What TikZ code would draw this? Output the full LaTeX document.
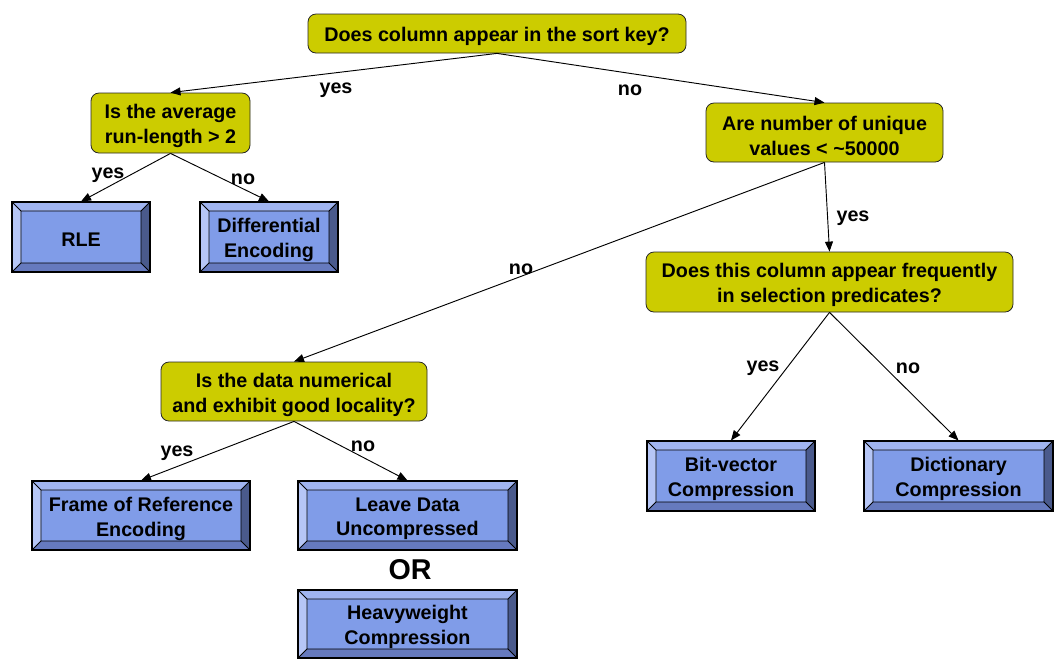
\documentclass[tikz,border=0pt]{standalone}
\usepackage{fontspec}
\setmainfont{Liberation Sans}
\usetikzlibrary{arrows.meta}
\definecolor{qfill}{RGB}{204,204,0}
\definecolor{lcenter}{RGB}{128,156,232}
\definecolor{ltop}{RGB}{160,180,240}
\definecolor{lleft}{RGB}{182,198,246}
\definecolor{lright}{RGB}{74,90,140}
\definecolor{lbottom}{RGB}{102,122,190}
\tikzset{
  txt/.style={font=\bfseries\fontsize{14.8}{18.5}\selectfont, align=center, inner sep=0pt},
  intext/.style={label={[txt, yshift=-2.4pt]center:{#1}}},
  question/.style={inner sep=0pt, draw=black!85, fill=qfill, rounded corners=6pt, line width=0.6pt, intext={#1}},
  leaf/.style={inner sep=0pt, draw=black, line width=0.8pt, fill=lcenter, intext={#1},
    path picture={
      \path (path picture bounding box.north west) coordinate (pnw)
            (path picture bounding box.north east) coordinate (pne)
            (path picture bounding box.south west) coordinate (psw)
            (path picture bounding box.south east) coordinate (pse)
            ([shift={(6.75pt,-6.75pt)}]path picture bounding box.north west) coordinate (inw)
            ([shift={(-6.75pt,-6.75pt)}]path picture bounding box.north east) coordinate (ine)
            ([shift={(6.75pt,6.75pt)}]path picture bounding box.south west) coordinate (isw)
            ([shift={(-6.75pt,6.75pt)}]path picture bounding box.south east) coordinate (ise);
      \fill[ltop] (pnw) -- (pne) -- (ine) -- (inw) -- cycle;
      \fill[lleft] (pnw) -- (inw) -- (isw) -- (psw) -- cycle;
      \fill[lright] (pne) -- (pse) -- (ise) -- (ine) -- cycle;
      \fill[lbottom] (psw) -- (isw) -- (ise) -- (pse) -- cycle;
      \draw[line width=0.6pt] (inw) rectangle (ise)
            (pnw) -- (inw) (pne) -- (ine) (psw) -- (isw) (pse) -- (ise);
    }},
  conn/.style={-{Triangle[length=7.5pt,width=6pt]}, line width=0.7pt},
  lbl/.style={txt},
  ortext/.style={font=\bfseries\fontsize{21.5}{24}\selectfont, inner sep=0pt}
}
\begin{document}
\begin{tikzpicture}[x=0.75pt,y=-0.75pt]
\useasboundingbox (0,0) rectangle (1055,662);
% questions
\node[question={Does column appear in the sort key?}, minimum width=283.5pt, minimum height=29.25pt] (top) at (497,33.5) {};
\node[question={Is the average\\run-length > 2}, minimum width=119.25pt, minimum height=45pt] (q2) at (170.5,123) {};
\node[question={Are number of unique\\values < \textasciitilde50000}, minimum width=177.75pt, minimum height=44.25pt] (q3) at (824.5,132.5) {};
\node[question={Does this column appear frequently\\in selection predicates?}, minimum width=275.25pt, minimum height=45pt] (q4) at (829.5,282) {};
\node[question={Is the data numerical\\and exhibit good locality?}, minimum width=199.5pt, minimum height=44.25pt] (q5) at (294,391.5) {};
% leaves
\node[leaf={RLE}, minimum width=103.5pt, minimum height=52.5pt] (rle) at (81,237) {};
\node[leaf={Differential\\Encoding}, minimum width=103.5pt, minimum height=52.5pt] (diff) at (269,237) {};
\node[leaf={Frame of Reference\\Encoding}, minimum width=163.5pt, minimum height=51.75pt] (frame) at (141,515.5) {};
\node[leaf={Leave Data\\Uncompressed}, minimum width=164.25pt, minimum height=51.75pt] (leave) at (407.5,515.5) {};
\node[leaf={Heavyweight\\Compression}, minimum width=164.25pt, minimum height=51pt] (heavy) at (407.5,624) {};
\node[leaf={Bit-vector\\Compression}, minimum width=126pt, minimum height=52.5pt] (bit) at (731,476) {};
\node[leaf={Dictionary\\Compression}, minimum width=141.75pt, minimum height=52.5pt] (dict) at (958.5,476) {};
\node[ortext] (or) at (410,570) {OR};
% connectors
\draw[conn] (top.south) -- (q2.north);
\draw[conn] (top.south) -- (q3.north);
\draw[conn] (q2.south) -- (rle.north);
\draw[conn] (q2.south) -- (diff.north);
\draw[conn] (q3.south) -- (q4.north);
\draw[conn] (q3.south) -- (q5.north);
\draw[conn] (q4.south) -- (bit.north);
\draw[conn] (q4.south) -- (dict.north);
\draw[conn] (q5.south) -- (frame.north);
\draw[conn] (q5.south) -- (leave.north);
% labels
\node[lbl] (l1) at (336,90) {yes};
\node[lbl] (l2) at (630,90) {no};
\node[lbl] (l3) at (108,175) {yes};
\node[lbl] (l4) at (243,179) {no};
\node[lbl] (l5) at (853,218) {yes};
\node[lbl] (l6) at (521,269) {no};
\node[lbl] (l7) at (763,368) {yes};
\node[lbl] (l8) at (908,368) {no};
\node[lbl] (l9) at (177,453) {yes};
\node[lbl] (l10) at (363,446) {no};
\end{tikzpicture}
\end{document}
